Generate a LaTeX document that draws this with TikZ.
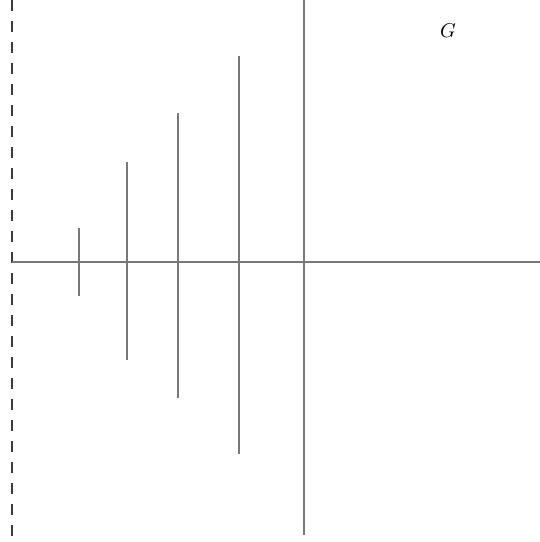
\documentclass[tikz,border=0pt]{standalone}
\usepackage{tikz}
\usetikzlibrary{positioning, calc}
\definecolor{axisgray}{RGB}{120,120,120}
\definecolor{edgegray}{RGB}{60,60,60}

\begin{document}
\begin{tikzpicture}[
  x=0.5pt, y=-0.5pt,
  axis/.style={draw=axisgray, line width=0.9pt},
  tick/.style={draw=axisgray, line width=0.9pt},
  boundary/.style={draw=edgegray, line width=0.8pt, dash pattern=on 5.5pt off 5pt},
  tag/.style={font=\normalsize, inner sep=0pt},
]
\useasboundingbox (0,0) rectangle (540,542);

% ── Reference points
\coordinate (origin) at (304,262);
\coordinate (leftEnd) at (12,262);
\coordinate (rightEnd) at (540,262);
\coordinate (topEnd) at (304,0);
\coordinate (bottomEnd) at (304,535);

% ── Dashed boundary
\coordinate (dashTop) at (12,0);
\coordinate (dashBottom) at (12,536);
\draw[boundary] (dashTop) -- (dashBottom);

% ── Axes
\draw[axis] (leftEnd) -- (rightEnd);
\draw[axis] (topEnd) -- (bottomEnd);

% ── Vertical segments
\foreach \xx/\ytop/\ybot in {79/228/296, 127/162/360, 178/113/398, 239/56/454} {
  \draw[tick] (\xx,\ytop) -- (\xx,\ybot);
}

% ── Label
\node[tag] (labelG) at (448,31) {$G$};

\end{tikzpicture}
\end{document}
